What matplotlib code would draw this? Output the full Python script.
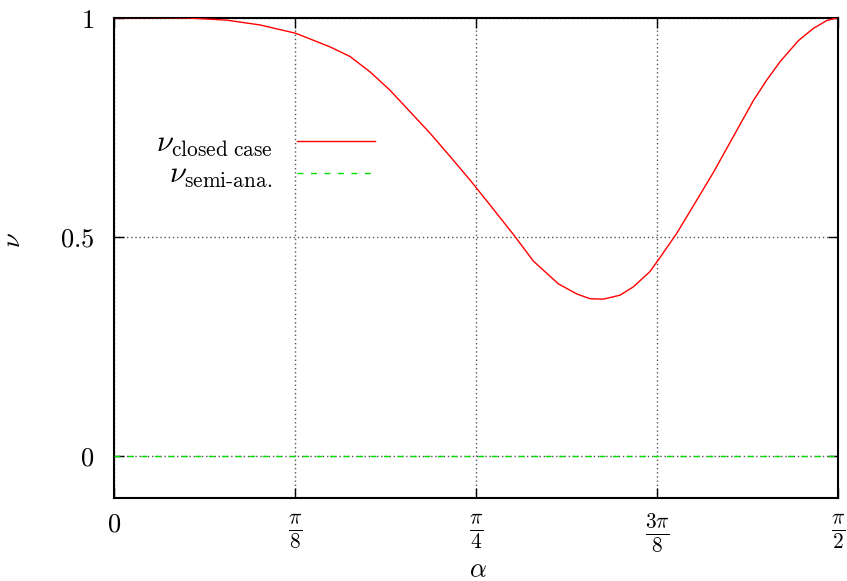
import numpy as np
import matplotlib
matplotlib.use("Agg")
import matplotlib.pyplot as plt

plt.rcParams['mathtext.fontset'] = 'cm'
plt.rcParams['font.family'] = ['DejaVu Serif']

# Data
alpha = [0.0, 0.0781, 0.1577, 0.2445, 0.3168, 0.3942, 0.4686, 0.5120, 0.5554,
         0.5988, 0.6422, 0.6856, 0.7290, 0.7724, 0.8158, 0.8700, 0.9097,
         0.9640, 1.0039, 1.0327, 1.0616, 1.0978, 1.1267, 1.1629, 1.1846,
         1.2208, 1.2569, 1.3003, 1.3436, 1.3870, 1.4161, 1.4450, 1.4847,
         1.5172, 1.5463, 1.5708]
nu_closed = [1.0, 1.0, 0.999, 0.994, 0.983, 0.964, 0.933, 0.911, 0.876,
             0.834, 0.785, 0.736, 0.683, 0.629, 0.572, 0.500, 0.444,
             0.392, 0.369, 0.358, 0.357, 0.366, 0.385, 0.420, 0.452,
             0.507, 0.570, 0.646, 0.728, 0.810, 0.857, 0.899, 0.947,
             0.975, 0.993, 1.0]
alpha_semi = [0.0, 1.5708]
nu_semi = [0.0, 0.0]

xticks = [0, np.pi/8, np.pi/4, 3*np.pi/8, np.pi/2]
xticklabels = [r'$0$', r'$\frac{\pi}{8}$', r'$\frac{\pi}{4}$', r'$\frac{3\pi}{8}$', r'$\frac{\pi}{2}$']
yticks = [0, 0.5, 1]
yticklabels = [r'$0$', r'$0.5$', r'$1$']

W, H = 847, 581
fig = plt.figure(figsize=(W/100, H/100), dpi=100)
ax = fig.add_axes([114/W, 1-498/H, (838-114)/W, (498-17.5)/H])

fs = 19
ax.plot(alpha, nu_closed, color='#ff0000', lw=1.0, label=r'$\nu_{\mathrm{closed\ case}}$', zorder=3)
ax.plot(alpha_semi, nu_semi, color='#00e000', lw=1.0, ls=(0, (4.3, 5.4)),
        label=r'$\nu_{\mathrm{semi\text{-}ana.}}$', zorder=3)

ax.set_xlim(0, np.pi/2)
ax.set_ylim(-0.097, 1.0)
ax.set_xticks(xticks)
ax.set_xticklabels(xticklabels, fontsize=22)
ax.get_xticklabels()[0].set_fontsize(fs)
ax.set_yticks(yticks)
ax.set_yticklabels(yticklabels, fontsize=fs)
ax.tick_params(direction='in', length=7, width=1, top=True, right=True, pad=14)
ax.tick_params(axis='x', pad=10)
ax.grid(True, color='#555555', ls=(0, (1, 2)), lw=1.0)
for s in ax.spines.values():
    s.set_linewidth(1.5)

fig.text(478/W, 1-570/H, r'$\alpha$', fontsize=fs, ha='center', va='center')
fig.text(13/W, 1-240/H, r'$\nu$', fontsize=fs, ha='center', va='center', rotation=90)

leg = ax.legend(loc='upper right', bbox_to_anchor=(375/W, 1-128/H), bbox_transform=fig.transFigure,
                frameon=False, markerfirst=False, fontsize=22, handlelength=2.55,
                handletextpad=0.8, labelspacing=0.0, borderpad=0, borderaxespad=0)

fig.savefig('out.png', dpi=100)
